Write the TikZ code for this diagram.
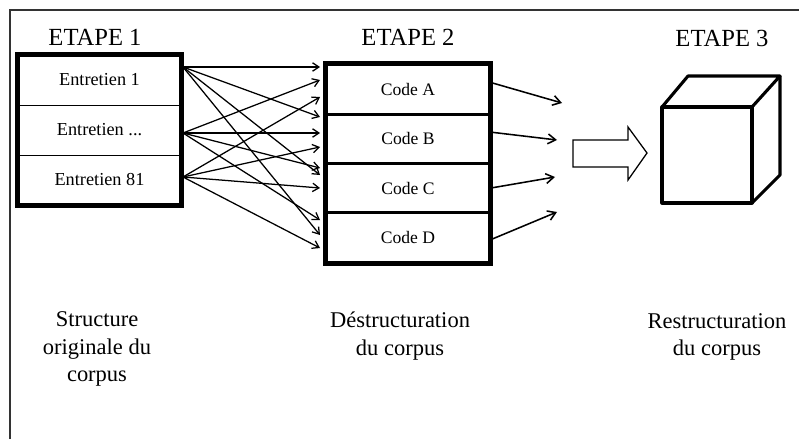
\documentclass[tikz,border=0pt]{standalone}
\usepackage{fontspec}
\setmainfont{Liberation Serif}
\usetikzlibrary{arrows.meta}
\begin{document}
\begin{tikzpicture}[x=0.025cm, y=-0.025cm,
    etape/.style={font=\fontsize{17.5}{20}\selectfont},
    entretien/.style={draw, line width=0.7pt, minimum width=4.075cm, minimum height=1.25cm, inner sep=0pt, font=\fontsize{13}{15}\selectfont},
    code/.style={draw, line width=2pt, minimum width=4.05cm, minimum height=1.23cm, inner sep=0pt, font=\fontsize{12.5}{15}\selectfont},
    legende/.style={align=center, font=\fontsize{16}{19.5}\selectfont},
    fan/.style={-{Straight Barb[length=4.5pt,width=6pt]}, line width=0.9pt},
    sortie/.style={-{Straight Barb[length=5.5pt,width=7pt]}, line width=1.1pt}]
      \useasboundingbox (0,0) rectangle (799,439);

      % cadre
      \draw[line width=1pt, black!80] (10,439) -- (10,10) -- (799,10);

      % titres
      \node[etape] (t1) at (95,37) {ETAPE 1};
      \node[etape] (t2) at (408,37) {ETAPE 2};
      \node[etape] (t3) at (722,38) {ETAPE 3};

      % etape 1
      \node[entretien] (e1) at (99.5,80) {Entretien 1};
      \node[entretien] (e2) at (99.5,130) {Entretien ...};
      \node[entretien] (e3) at (99.5,180) {Entretien 81};
      \draw[line width=3.2pt] (e1.north west) rectangle (e3.south east);

      % etape 2
      \node[code] (ca) at (408,89.6) {Code A};
      \node[code] (cb) at (408,138.9) {Code B};
      \node[code] (cc) at (408,188.1) {Code C};
      \node[code] (cd) at (408,237.4) {Code D};
      \draw[line width=3pt] (ca.north west) rectangle (cd.south east);

      % fleches entre etape 1 et etape 2
      \coordinate (s1) at (183,67);
      \coordinate (s2) at (183,133);
      \coordinate (s3) at (183,177);
      \foreach \y [count=\i] in {67,80,97,117,133,147,168,175,188,220,235,248}
        \coordinate (d\i) at (320,\y);
      \foreach \s/\i in {s1/1, s1/4, s1/8, s1/11, s2/2, s2/5, s2/7, s2/10, s3/3, s3/6, s3/9, s3/12}
        \draw[fan] (\s) -- (d\i);

      % fleches de sortie
      \coordinate (o1) at (562,103);
      \coordinate (o2) at (557,140);
      \coordinate (o3) at (555,177);
      \coordinate (o4) at (557,212);
      \draw[sortie] ([yshift=0.18cm]ca.east) -- (o1);
      \draw[sortie] ([yshift=0.17cm]cb.east) -- (o2);
      \draw[sortie] (cc.east) -- (o3);
      \draw[sortie] ([yshift=-0.06cm]cd.east) -- (o4);

      % grosse fleche
      \draw[line width=0.9pt] (573,140) -- (628,140) -- (628,127) -- (647,153)
        -- (628,180) -- (628,167) -- (573,167) -- cycle;

      % cube
      \draw[line width=2.2pt, line join=round] (662,107) rectangle (752,203);
      \draw[line width=2.2pt, line join=round] (662,107) -- (688,76) -- (780,76) -- (752,107);
      \draw[line width=2.2pt, line join=round] (780,76) -- (780,175) -- (752,203);

      % legendes
      \node[legende] (l1) at (97,349) {Structure\\originale du\\corpus};
      \node[legende] (l2) at (400,336) {Déstructuration\\du corpus};
      \node[legende] (l3) at (717,337) {Restructuration\\du corpus};

    \end{tikzpicture}
\end{document}
